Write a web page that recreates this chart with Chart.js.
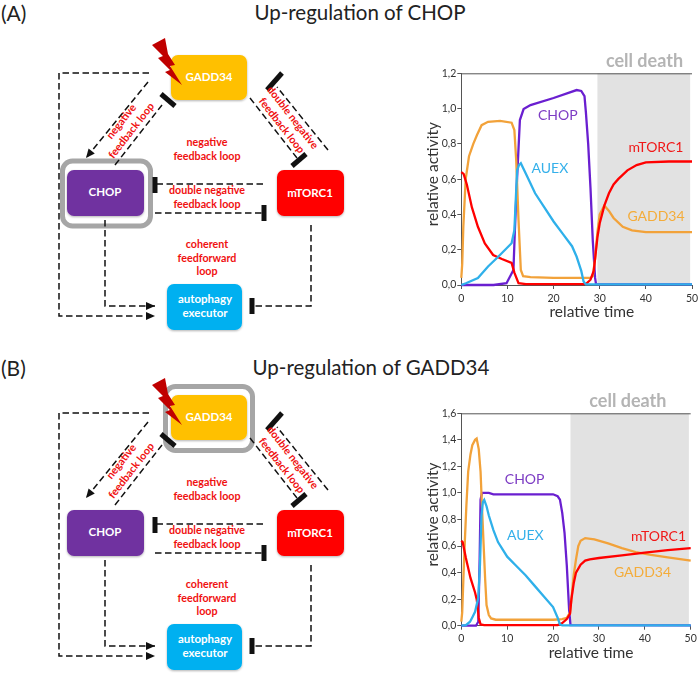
<!DOCTYPE html>
<html>
<head>
<meta charset="utf-8">
<script src="https://cdn.jsdelivr.net/npm/chart.js@4"></script>
<style>
  html, body { margin: 0; padding: 0; background: #fff; }
  body { width: 698px; height: 674px; position: relative; overflow: hidden; font-family: Lato, sans-serif; }
  .label { position: absolute; color: #222; white-space: nowrap; }
  .panel { font-size: 21px; left: 1px; }
  .title { font-size: 20.5px; transform: translateX(-50%); }
  #diagram { position: absolute; left: 0; top: 0; }
  .box { position: absolute; }
  .box canvas { display: block; }
</style>
</head>
<body>
<svg id="diagram" width="698" height="674" xmlns="http://www.w3.org/2000/svg"></svg>
<div class="label panel" style="top:0px">(A)</div>
<div class="label title" style="left:360px;top:0px">Up-regulation of CHOP</div>
<div class="label panel" style="top:355px">(B)</div>
<div class="label title" style="left:371px;top:355px">Up-regulation of GADD34</div>
<div class="box" style="left:420px;top:50px;width:278px;height:280px"><canvas id="chartA"></canvas></div>
<div class="box" style="left:420px;top:385px;width:278px;height:280px"><canvas id="chartB"></canvas></div>

<script>
// panel A values
const gaddTimeA = [0, 0.2, 0.44, 0.95, 1.67, 2.6, 3.4, 4.4, 5.8, 8.4, 10.9, 11.5, 11.9, 12.4, 12.9, 13.4, 15, 20, 27, 28, 28.5, 29, 29.5, 30, 31, 32, 33, 35, 37, 40, 50];
const gaddA = [0.04, 0.12, 0.33, 0.6, 0.73, 0.8, 0.85, 0.906, 0.925, 0.93, 0.92, 0.878, 0.708, 0.368, 0.085, 0.05, 0.045, 0.04, 0.04, 0.04, 0.05, 0.15, 0.3, 0.4, 0.45, 0.42, 0.38, 0.33, 0.31, 0.3, 0.3];
const chopTimeA = [0, 7, 9.8, 11.3, 11.6, 12, 12.7, 13.5, 15, 20, 25, 26, 26.7, 27, 27.5, 28, 28.5, 29, 29.2, 50];
const chopA = [0, 0, 0.01, 0.085, 0.3, 0.557, 0.935, 0.997, 1.02, 1.06, 1.105, 1.1, 1.07, 0.98, 0.8, 0.55, 0.25, 0.04, 0.005, 0.003];
const auexTimeA = [0, 1, 3.6, 5.8, 8, 10.9, 11.5, 12.1, 12.5, 12.9, 14, 16, 18, 20, 22, 24, 25, 26, 26.5, 27, 50];
const auexA = [0, 0.01, 0.04, 0.105, 0.16, 0.237, 0.31, 0.65, 0.68, 0.69, 0.63, 0.52, 0.44, 0.36, 0.29, 0.22, 0.16, 0.08, 0.02, 0.003, 0.003];
const mtorTimeA = [0, 0.5, 1.2, 2.3, 3.6, 5.1, 6.9, 8.8, 10.9, 11.5, 12.4, 14, 27, 28, 28.7, 29, 29.5, 30, 31, 32, 33, 34, 36, 38, 40, 45, 50];
const mtorA = [0.64, 0.63, 0.57, 0.44, 0.33, 0.235, 0.17, 0.147, 0.125, 0.07, 0.01, 0.005, 0.005, 0.03, 0.08, 0.15, 0.27, 0.35, 0.45, 0.52, 0.57, 0.6, 0.65, 0.68, 0.695, 0.7, 0.7];

// panel B values
const gaddTimeB = [0, 0.2, 0.5, 0.8, 1.1, 1.5, 2, 2.4, 3, 3.35, 3.8, 4.2, 4.5, 4.8, 5.2, 5.5, 6, 6.5, 7.5, 20, 22, 23, 23.7, 24, 24.5, 25, 25.5, 26, 27, 29, 32, 35, 38, 41, 45, 50];
const gaddB = [0.03, 0.1, 0.4, 0.66, 0.9, 1.16, 1.29, 1.36, 1.4, 1.41, 1.33, 1.16, 0.9, 0.66, 0.35, 0.156, 0.08, 0.055, 0.045, 0.045, 0.05, 0.06, 0.1, 0.2, 0.38, 0.5, 0.6, 0.64, 0.66, 0.65, 0.62, 0.585, 0.555, 0.535, 0.515, 0.49];
const chopTimeB = [0, 3.2, 3.7, 4, 4.2, 4.5, 6, 7, 20, 21, 21.5, 22, 22.5, 23, 23.5, 23.8, 50];
const chopB = [0, 0, 0.03, 0.5, 0.95, 1, 1, 0.99, 0.99, 0.975, 0.95, 0.85, 0.7, 0.45, 0.12, 0.005, 0.003];
const auexTimeB = [0, 1, 1.9, 2.5, 3, 3.7, 4.07, 4.4, 4.7, 5, 5.5, 6, 7, 8, 10, 12, 14, 16, 18, 20, 21, 21.5, 22, 50];
const auexB = [0, 0.005, 0.03, 0.07, 0.105, 0.21, 0.46, 0.83, 0.93, 0.947, 0.9, 0.83, 0.72, 0.63, 0.52, 0.45, 0.38, 0.3, 0.22, 0.14, 0.06, 0.01, 0.003, 0.003];
const mtorTimeB = [0, 0.3, 1, 2, 3, 3.35, 3.6, 3.8, 4.2, 5, 21, 22, 23, 23.7, 24, 24.5, 25, 26, 27, 28, 30, 35, 40, 45, 50];
const mtorB = [0.64, 0.63, 0.51, 0.36, 0.25, 0.2, 0.13, 0.06, 0.01, 0.005, 0.005, 0.02, 0.05, 0.09, 0.2, 0.32, 0.4, 0.46, 0.49, 0.5, 0.51, 0.53, 0.55, 0.57, 0.585];

const seriesNames = ['CHOP', 'AUEX', 'mTORC1', 'GADD34'];
const seriesColors = { CHOP: '#6a1fd0', AUEX: '#2fb0ea', mTORC1: '#ff0000', GADD34: '#f2a23a' };
const nameColors = { CHOP: '#7d3cc4', AUEX: '#35b0ea', mTORC1: '#f01818', GADD34: '#f4ac3a' };

const toPoints = (xs, ys) => xs.map((x, i) => ({ x: x, y: ys[i] }));

// shaded region and the words written on the plot, all in data units
const panelPlugin = {
  id: 'panelPlugin',
  beforeDatasetsDraw(chart, args, opts) {
    const { ctx, scales: { x }, chartArea } = chart;
    ctx.save();
    ctx.fillStyle = '#e2e2e2';
    ctx.fillRect(x.getPixelForValue(opts.deathStart), chartArea.top, x.getPixelForValue(opts.deathEnd) - x.getPixelForValue(opts.deathStart), chartArea.bottom - chartArea.top);
    ctx.restore();
  },
  afterDraw(chart, args, opts) {
    const { ctx, scales: { x, y }, chartArea } = chart;
    ctx.save();
    ctx.strokeStyle = '#555';
    ctx.lineWidth = 1;
    ctx.beginPath();
    ctx.moveTo(chartArea.left, chartArea.top + 0.5);
    ctx.lineTo(chartArea.right, chartArea.top + 0.5);
    ctx.stroke();
    ctx.textAlign = 'center';
    ctx.textBaseline = 'middle';
    ctx.font = '14px Lato, sans-serif';
    seriesNames.forEach(name => {
      const at = opts.names[name];
      ctx.fillStyle = nameColors[name];
      ctx.fillText(name, x.getPixelForValue(at[0]), y.getPixelForValue(at[1]));
    });
    ctx.font = 'bold 18px Lato, sans-serif';
    ctx.fillStyle = '#b4b4b4';
    ctx.fillText('cell death', x.getPixelForValue(opts.deathLabel), chartArea.top - 12);
    // axis titles are off centre in the original, so they are placed here
    ctx.font = '15.5px Lato, sans-serif';
    ctx.fillStyle = '#333';
    ctx.fillText('relative time', x.getPixelForValue(28.3), chartArea.bottom + 27);
    ctx.translate(13, (chartArea.top + chartArea.bottom) / 2 - 5);
    ctx.rotate(-Math.PI / 2);
    ctx.fillText('relative activity', 0, 0);
    ctx.restore();
  }
};

function makeChart(id, yMax, yStep, xHeight, plotRight, plugOpts, lines) {
  return new Chart(document.getElementById(id), {
    type: 'line',
    plugins: [panelPlugin],
    data: {
      datasets: lines.map(l => ({
        label: l.name,
        data: l.points,
        borderColor: seriesColors[l.name],
        borderWidth: 2.3,
        pointRadius: 0,
        tension: 0,
        fill: false,
        clip: 2
      }))
    },
    options: {
      responsive: false,
      animation: false,
      events: [],
      layout: { padding: { top: plugOpts.top, right: plotRight, left: 0, bottom: 0 } },
      plugins: { legend: { display: false }, tooltip: { enabled: false }, panelPlugin: plugOpts },
      scales: {
        x: {
          type: 'linear', min: 0, max: 50,
          grid: { display: true, drawOnChartArea: false, tickLength: 4, color: '#555' },
          border: { color: '#555' },
          ticks: { stepSize: 10, maxRotation: 0, padding: 3, color: '#333', font: { size: 10.5, family: 'Lato, sans-serif' } },
          afterFit(s) { s.height = xHeight; s.paddingRight = 0; s.paddingLeft = 0; }
        },
        y: {
          min: 0, max: yMax,
          grid: { display: true, drawOnChartArea: false, tickLength: 4, color: '#555' },
          border: { color: '#555' },
          ticks: {
            stepSize: yStep, padding: 1, color: '#333', font: { size: 10.5, family: 'Lato, sans-serif' },
            callback: v => v.toFixed(1).replace('.', ',')
          },
          afterFit(s) { s.width = 41.3; s.paddingTop = 0; s.paddingBottom = 0; }
        }
      }
    }
  });
}

function sizeCanvas(id) {
  const c = document.getElementById(id);
  c.width = 278; c.height = 280;
  c.style.width = '278px'; c.style.height = '280px';
}
sizeCanvas('chartA');
sizeCanvas('chartB');

makeChart('chartA', 1.2, 0.2, 45, 6, {
  top: 23.3, deathStart: 29.5, deathEnd: 49.6, deathLabel: 39.7,
  names: { CHOP: [20.9, 0.96], AUEX: [19.2, 0.66], mTORC1: [42.2, 0.78], GADD34: [42.2, 0.39] }
}, [
  { name: 'AUEX', points: toPoints(auexTimeA, auexA) },
  { name: 'mTORC1', points: toPoints(mtorTimeA, mtorA) },
  { name: 'GADD34', points: toPoints(gaddTimeA, gaddA) },
  { name: 'CHOP', points: toPoints(chopTimeA, chopA) }
]);

makeChart('chartB', 1.6, 0.2, 39.3, 7.3, {
  top: 28.3, deathStart: 23.8, deathEnd: 49.6, deathLabel: 36.3,
  names: { CHOP: [13.8, 1.098], AUEX: [13.95, 0.683], mTORC1: [43, 0.67], GADD34: [39.5, 0.4] }
}, [
  { name: 'AUEX', points: toPoints(auexTimeB, auexB) },
  { name: 'mTORC1', points: toPoints(mtorTimeB, mtorB) },
  { name: 'GADD34', points: toPoints(gaddTimeB, gaddB) },
  { name: 'CHOP', points: toPoints(chopTimeB, chopB) }
]);

// network diagram beside each chart
const svg = document.getElementById('diagram');
const NS = 'http://www.w3.org/2000/svg';
function el(name, attrs, parent) {
  const e = document.createElementNS(NS, name);
  Object.keys(attrs).forEach(k => e.setAttribute(k, attrs[k]));
  (parent || svg).appendChild(e);
  return e;
}
const defs = el('defs', {});
const shadow = el('filter', { id: 'soft', x: '-10%', y: '-10%', width: '120%', height: '130%' }, defs);
el('feDropShadow', { dx: 0, dy: 1, stdDeviation: 1, 'flood-color': '#000', 'flood-opacity': 0.3 }, shadow);

function dashed(g, pts, arrow) {
  el('polyline', { points: pts.map(p => p.join(',')).join(' '), fill: 'none', stroke: '#111', 'stroke-width': 1.5, 'stroke-dasharray': '6.5 3.5' }, g);
  if (arrow) {
    const a = pts[pts.length - 1], b = pts[pts.length - 2];
    const ang = Math.atan2(a[1] - b[1], a[0] - b[0]), len = 9, w = 4;
    const cx = a[0] - len * Math.cos(ang), cy = a[1] - len * Math.sin(ang);
    const nx = -Math.sin(ang) * w, ny = Math.cos(ang) * w;
    el('polygon', { points: `${a[0]},${a[1]} ${cx + nx},${cy + ny} ${cx - nx},${cy - ny}`, fill: '#111' }, g);
  }
}
function bar(g, x1, y1, x2, y2) {
  el('line', { x1, y1, x2, y2, stroke: '#111', 'stroke-width': 5 }, g);
}
function redText(g, lines) {
  lines.forEach(t => {
    const a = { x: t[1], y: t[2], fill: '#f01010', 'font-size': 10.7, 'font-weight': 700, 'font-family': 'Lato, sans-serif', 'text-anchor': 'middle', 'dominant-baseline': 'middle' };
    if (t[3]) a.transform = `rotate(${t[3]} ${t[1]} ${t[2]})`;
    el('text', a, g).textContent = t[0];
  });
}
function node(g, x, y, w, h, color, words) {
  el('rect', { x, y, width: w, height: h, rx: 7, fill: color, filter: 'url(#soft)' }, g);
  words.forEach(t => {
    el('text', { x: t[1], y: t[2], fill: '#fff', 'font-size': 11.5, 'font-weight': 700, 'font-family': 'Lato, sans-serif', 'text-anchor': 'middle', 'dominant-baseline': 'middle' }, g).textContent = t[0];
  });
}
function drawDiagram(dy, ring) {
  const g = el('g', { transform: `translate(0 ${dy})` });
  if (ring) el('rect', { x: ring[0], y: ring[1], width: ring[2], height: ring[3], rx: 10, fill: '#fff', stroke: '#a6a6a6', 'stroke-width': 5 }, g);
  dashed(g, [[149, 73], [59, 73], [59, 316], [155, 316]], true);
  dashed(g, [[148, 82], [86, 158]], true);
  dashed(g, [[115, 165], [162, 105]]);
  bar(g, 161, 94, 175, 106);
  dashed(g, [[250, 98], [297, 158]]);
  bar(g, 292, 166, 306, 154);
  dashed(g, [[328, 150], [277, 87]]);
  bar(g, 267, 90, 282, 73);
  dashed(g, [[263, 184], [157, 184]]);
  bar(g, 155, 177, 155, 193);
  dashed(g, [[155, 213], [264, 213]]);
  bar(g, 264, 205, 264, 221);
  dashed(g, [[105, 220], [105, 306], [155, 306]], true);
  dashed(g, [[311, 225], [311, 306], [252, 306]]);
  bar(g, 252, 298, 252, 314);
  node(g, 171, 55, 76, 45, '#ffc000', [['GADD34', 209, 78]]);
  node(g, 67, 170, 77, 46, '#7030a0', [['CHOP', 105, 193]]);
  node(g, 277, 170, 67, 46, '#ff0000', [['mTORC1', 310, 194]]);
  node(g, 167, 284, 75, 46, '#00b0f0', [['autophagy', 205, 300], ['executor', 205, 314]]);
  el('polygon', { points: '152,45 165,38 168,54 175,65 170,66 182,85 165,72 170,70 158,58 163,56', fill: '#c00000' }, g);
  redText(g, [
    ['negative', 122, 122, -52], ['feedback loop', 132, 131, -52],
    ['double negative', 292, 118, 52], ['feedback loop', 281, 126, 52],
    ['negative', 207, 143], ['feedback loop', 207, 157],
    ['double negative', 207, 191], ['feedback loop', 207, 205],
    ['coherent', 207, 245], ['feedforward', 207, 259], ['loop', 207, 272]
  ]);
}
drawDiagram(0, [62.5, 161, 88, 65]);
drawDiagram(340, [165.5, 46.5, 87, 64]);
</script>
</body>
</html>
